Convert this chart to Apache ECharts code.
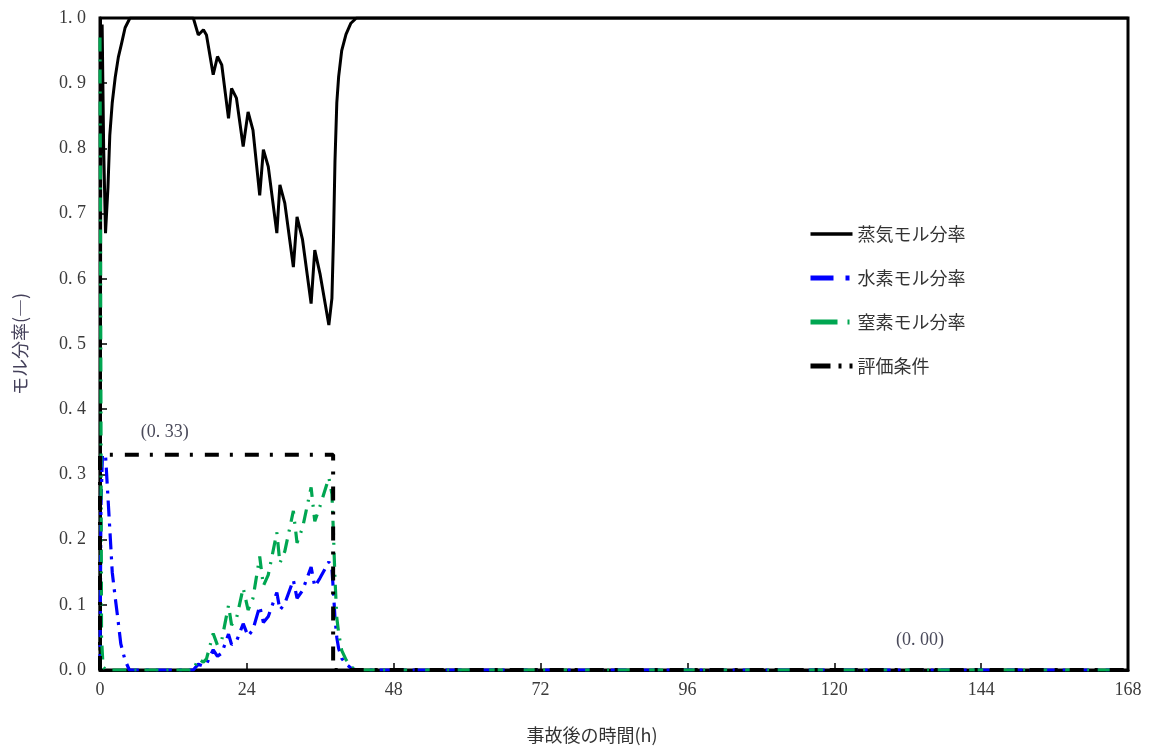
<!DOCTYPE html>
<html>
<head>
<meta charset="utf-8">
<script src="https://cdn.jsdelivr.net/npm/echarts@6/dist/echarts.min.js"></script>
<style>html,body{margin:0;padding:0;background:#fff}#c{width:1151px;height:751px}</style>
</head>
<body>
<div id="c"></div>
<script>
// ---- data (time in hours, mole fraction) ----
const seriesNames = ['蒸気モル分率', '水素モル分率', '窒素モル分率', '評価条件'];
const xTicks = [0, 24, 48, 72, 96, 120, 144, 168];
const yTicks = [0, 0.1, 0.2, 0.3, 0.4, 0.5, 0.6, 0.7, 0.8, 0.9, 1.0];

const steamData = [
  [0,0.03],[0.15,0.97],[0.35,0.99],[0.6,0.80],[0.9,0.67],[1.1,0.67],[1.3,0.74],[1.6,0.82],
  [2.0,0.87],[2.5,0.91],[3.0,0.94],[3.5,0.96],[4.1,0.985],[4.9,1.0],
  [15.25,1.0],[16.06,0.974],[16.9,0.982],[17.4,0.974],[18.5,0.913],[19.2,0.941],[19.9,0.928],
  [21.0,0.846],[21.5,0.892],[22.3,0.877],[23.4,0.803],[24.2,0.856],[25.0,0.828],
  [26.1,0.728],[26.7,0.798],[27.5,0.772],[28.9,0.670],[29.4,0.744],[30.2,0.716],
  [31.6,0.618],[32.2,0.695],[33.1,0.660],[34.5,0.562],[35.1,0.644],[35.95,0.608],
  [37.4,0.529],[37.9,0.57],[38.15,0.66],[38.4,0.78],[38.7,0.87],[39.0,0.91],[39.5,0.95],
  [40.2,0.975],[41.0,0.992],[41.9,1.0],[168,1.0]
];
const h2Data = [
  [0,0],[0.15,0.25],[0.4,0.33],[0.9,0.33],[1.3,0.265],[1.7,0.20],[2.0,0.15],[2.5,0.11],
  [2.9,0.08],[3.4,0.04],[4.1,0.015],[4.8,0],
  [15.25,0],[16.06,0.009],[16.9,0.006],[17.4,0.009],[18.5,0.031],[19.2,0.021],[19.9,0.026],
  [21.0,0.055],[21.5,0.039],[22.3,0.044],[23.4,0.071],[24.2,0.052],[25.0,0.062],
  [26.1,0.098],[26.7,0.073],[27.5,0.082],[28.9,0.119],[29.4,0.092],[30.2,0.102],
  [31.6,0.138],[32.2,0.110],[33.1,0.122],[34.5,0.158],[35.1,0.128],[35.95,0.141],
  [37.4,0.166],[37.9,0.155],[38.15,0.12],[38.4,0.08],[38.7,0.05],[39.0,0.033],[39.5,0.018],
  [40.2,0.009],[41.0,0.003],[41.9,0],[168,0]
];
const n2Data = [
  [0,0.97],[0.1,0.6],[0.25,0.05],[0.5,0.005],[1.0,0],
  [15.25,0],[16.06,0.017],[16.9,0.012],[17.4,0.017],[18.5,0.056],[19.2,0.038],[19.9,0.046],
  [21.0,0.099],[21.5,0.069],[22.3,0.079],[23.4,0.126],[24.2,0.092],[25.0,0.110],
  [26.1,0.174],[26.7,0.129],[27.5,0.146],[28.9,0.211],[29.4,0.164],[30.2,0.182],
  [31.6,0.244],[32.2,0.195],[33.1,0.218],[34.5,0.280],[35.1,0.228],[35.95,0.251],
  [37.4,0.295],[37.9,0.27],[38.15,0.21],[38.4,0.14],[38.7,0.08],[39.0,0.057],[39.5,0.03],
  [40.2,0.016],[41.0,0.005],[41.9,0],[168,0]
];
const condData = [[0,0],[0,0.33],[38.1,0.33],[38.1,0],[168,0]];
const notes = [
  {coord:[10.6,0.365], text:'(0. 33)'},
  {coord:[134,0.045], text:'(0. 00)'}
];

const serifFont = 'Liberation Serif';
const jpFont = 'Noto Sans CJK JP';
const chart = echarts.init(document.getElementById('c'), null, {renderer:'canvas'});
const fmtY = v => v.toFixed(1).replace('.', '. ');
const colors = ['#000000', '#0000ff', '#00a651', '#000000'];
const lineDashes = ['solid', [16,7,3,7], [14,8,2,8], [14,11,3,12]];
const legendDashes = ['solid', [23,12,4,30], [27,10,2,30], [20,8,3,8,3,30]];

chart.setOption({
  animation: false,
  backgroundColor: '#fff',
  grid: {left:100, right:23, top:18, bottom:81, show:true, borderColor:'#000', borderWidth:3, backgroundColor:'transparent'},
  legend: {
    orient:'vertical', left:803, top:220, itemWidth:42, itemHeight:18, itemGap:26,
    itemStyle:{opacity:0},
    data: seriesNames.map((n, i) => ({
      name:n,
      lineStyle:{color:colors[i], width:i === 0 ? 3.5 : 5, type:legendDashes[i], opacity:1}
    })),
    textStyle:{fontFamily:jpFont, fontSize:18, color:'#333'}
  },
  xAxis: {
    type:'value', min:0, max:168, interval:24,
    name:'事故後の時間(h)', nameLocation:'middle', nameGap:56,
    nameTextStyle:{fontFamily:jpFont, fontSize:18, color:'#333', padding:[0,44,0,0]},
    axisLine:{show:true, lineStyle:{color:'#000', width:3}},
    axisTick:{show:true, inside:true, length:7, lineStyle:{color:'#000', width:1.5}},
    axisLabel:{fontFamily:serifFont, fontSize:18, color:'#3a3a3a', margin:11},
    splitLine:{show:false}
  },
  yAxis: {
    type:'value', min:0, max:1, interval:0.1,
    name:'モル分率(―)', nameLocation:'middle', nameGap:71, nameRotate:90,
    nameTextStyle:{fontFamily:jpFont, fontSize:18, color:'#44405a'},
    axisLine:{show:true, lineStyle:{color:'#000', width:3}},
    axisTick:{show:true, inside:true, length:7, lineStyle:{color:'#000', width:1.5}},
    axisLabel:{fontFamily:serifFont, fontSize:18, color:'#3a3a3a', margin:14, formatter: fmtY},
    splitLine:{show:false}
  },
  series: [
    {name:seriesNames[0], type:'line', data:steamData, symbol:'none', z:3,
     lineStyle:{color:colors[0], width:3, type:lineDashes[0]}, itemStyle:{color:colors[0]}},
    {name:seriesNames[1], type:'line', data:h2Data, symbol:'none', z:4,
     lineStyle:{color:colors[1], width:3.2, type:lineDashes[1]}, itemStyle:{color:colors[1]}},
    {name:seriesNames[2], type:'line', data:n2Data, symbol:'none', z:5,
     lineStyle:{color:colors[2], width:3.2, type:lineDashes[2]}, itemStyle:{color:colors[2]}},
    {name:seriesNames[3], type:'line', data:condData, symbol:'none', z:6,
     lineStyle:{color:colors[3], width:4, type:lineDashes[3]}, itemStyle:{color:colors[3]},
     markPoint:{
       symbol:'circle', symbolSize:0, silent:true,
       label:{show:true, position:'inside', formatter: p => p.name,
              fontFamily:serifFont, fontSize:18, color:'#4a4a5a'},
       data: notes.map(n => ({name:n.text, coord:n.coord}))
     }}
  ]
});
</script>
</body>
</html>
